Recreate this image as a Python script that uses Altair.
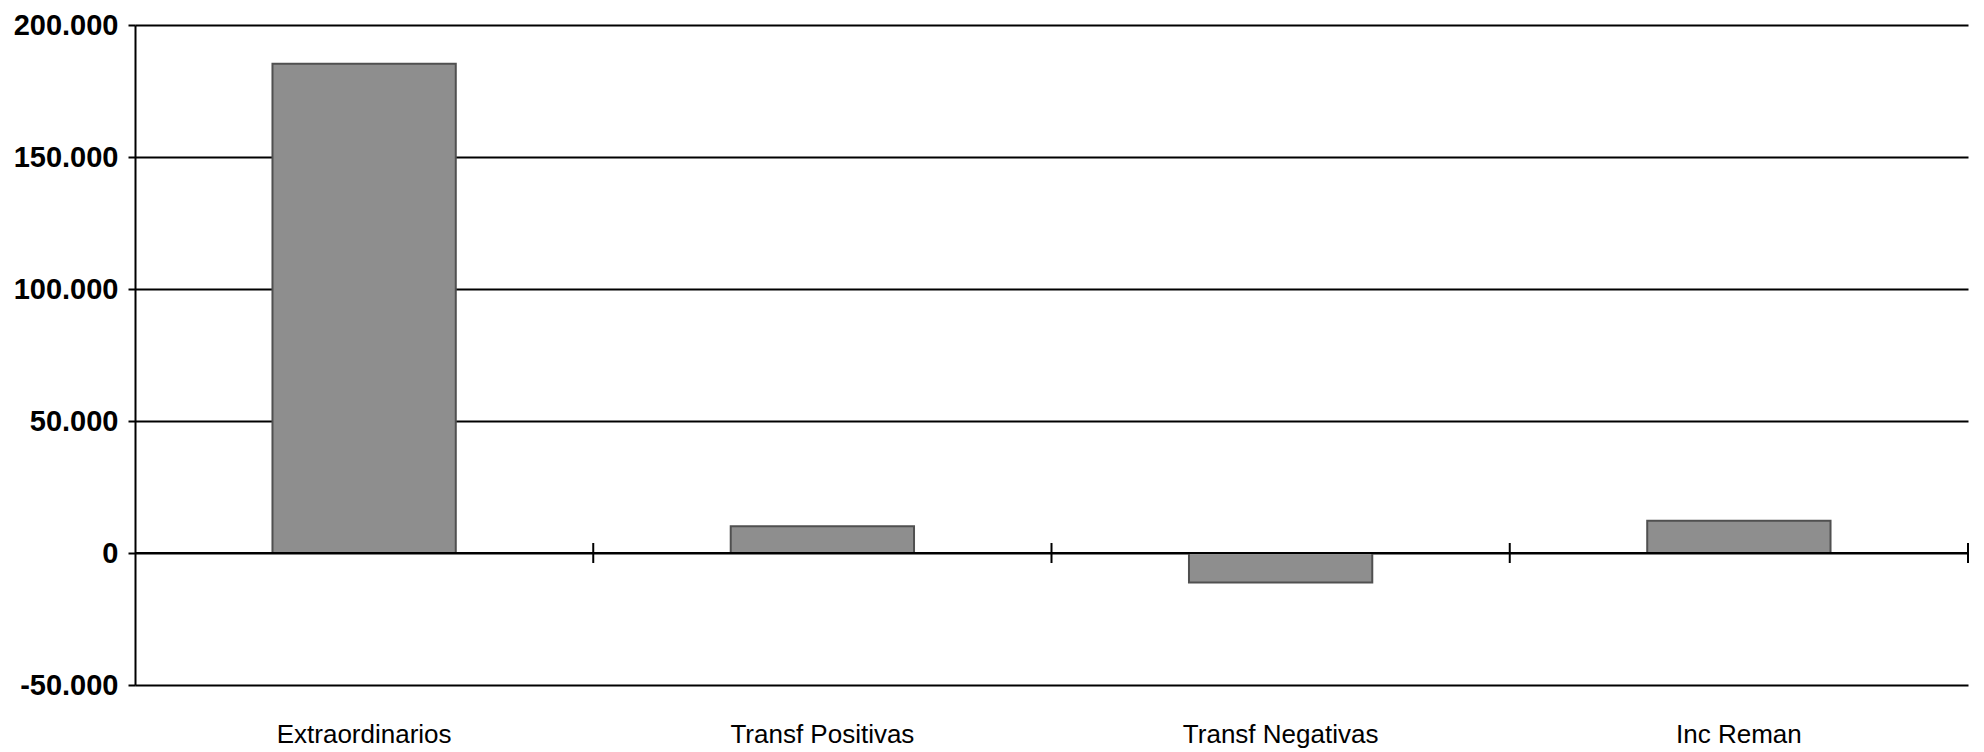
import altair as alt
import pandas as pd

categories = ["Extraordinarios", "Transf Positivas", "Transf Negativas", "Inc Reman"]
values = [185300, 10100, -11200, 12200]
y_ticks = [-50000, 0, 50000, 100000, 150000, 200000]

df = pd.DataFrame({"cat": categories, "val": values})

FONT = "Liberation Sans"

y_scale = alt.Scale(domain=[-50000, 200000], nice=False, zero=False)
y_axis = alt.Axis(
    values=y_ticks,
    labelExpr="replace(replace(format(datum.value, ',d'), /,/g, '.'), /\u2212/g, '-')",
    labelFont=FONT, labelFontSize=29, labelFontWeight="bold", labelColor="black",
    labelPadding=10, tickSize=7, tickColor="black", tickWidth=2,
    domainColor="black", domainWidth=2,
    grid=True, gridColor="black", gridWidth=2, gridOpacity=1,
    title=None,
)

bars = alt.Chart(df).mark_bar(
    fill="#8e8e8e", stroke="#505050", strokeWidth=2
).encode(
    x=alt.X("cat:N", sort=categories,
            scale=alt.Scale(paddingInner=0.6, paddingOuter=0.3),
            axis=alt.Axis(title=None, ticks=False, domain=False, tickSize=0,
                          labelFont=FONT, labelFontSize=26, labelColor="black",
                          labelBaseline="alphabetic", labelPadding=57,
                          labelAngle=0, labelLimit=0, grid=False)),
    y=alt.Y("val:Q", scale=y_scale, axis=y_axis),
)

zero = alt.Chart(df).mark_rule(color="black", strokeWidth=2).encode(
    y=alt.Y("z:Q", scale=y_scale, axis=y_axis)
).transform_calculate(z="0")

ticks = alt.Chart(df).mark_tick(
    orient="vertical", size=20, thickness=2, color="black", opacity=1
).encode(
    x=alt.X("cat:N", sort=categories, bandPosition=1,
            scale=alt.Scale(paddingInner=0, paddingOuter=0), axis=None),
    y=alt.Y("z:Q", scale=y_scale, axis=y_axis),
).transform_calculate(z="0")

chart = alt.layer(bars, zero, ticks).resolve_scale(x="independent").properties(
    width=1833, height=660,
    autosize=alt.AutoSizeParams(type="none"),
    padding={"left": 127, "top": 17, "right": 8, "bottom": 70},
).configure(background="white", view=alt.ViewConfig(stroke=None))

chart.save("out.html", embed_options={"renderer": "svg", "actions": False})
